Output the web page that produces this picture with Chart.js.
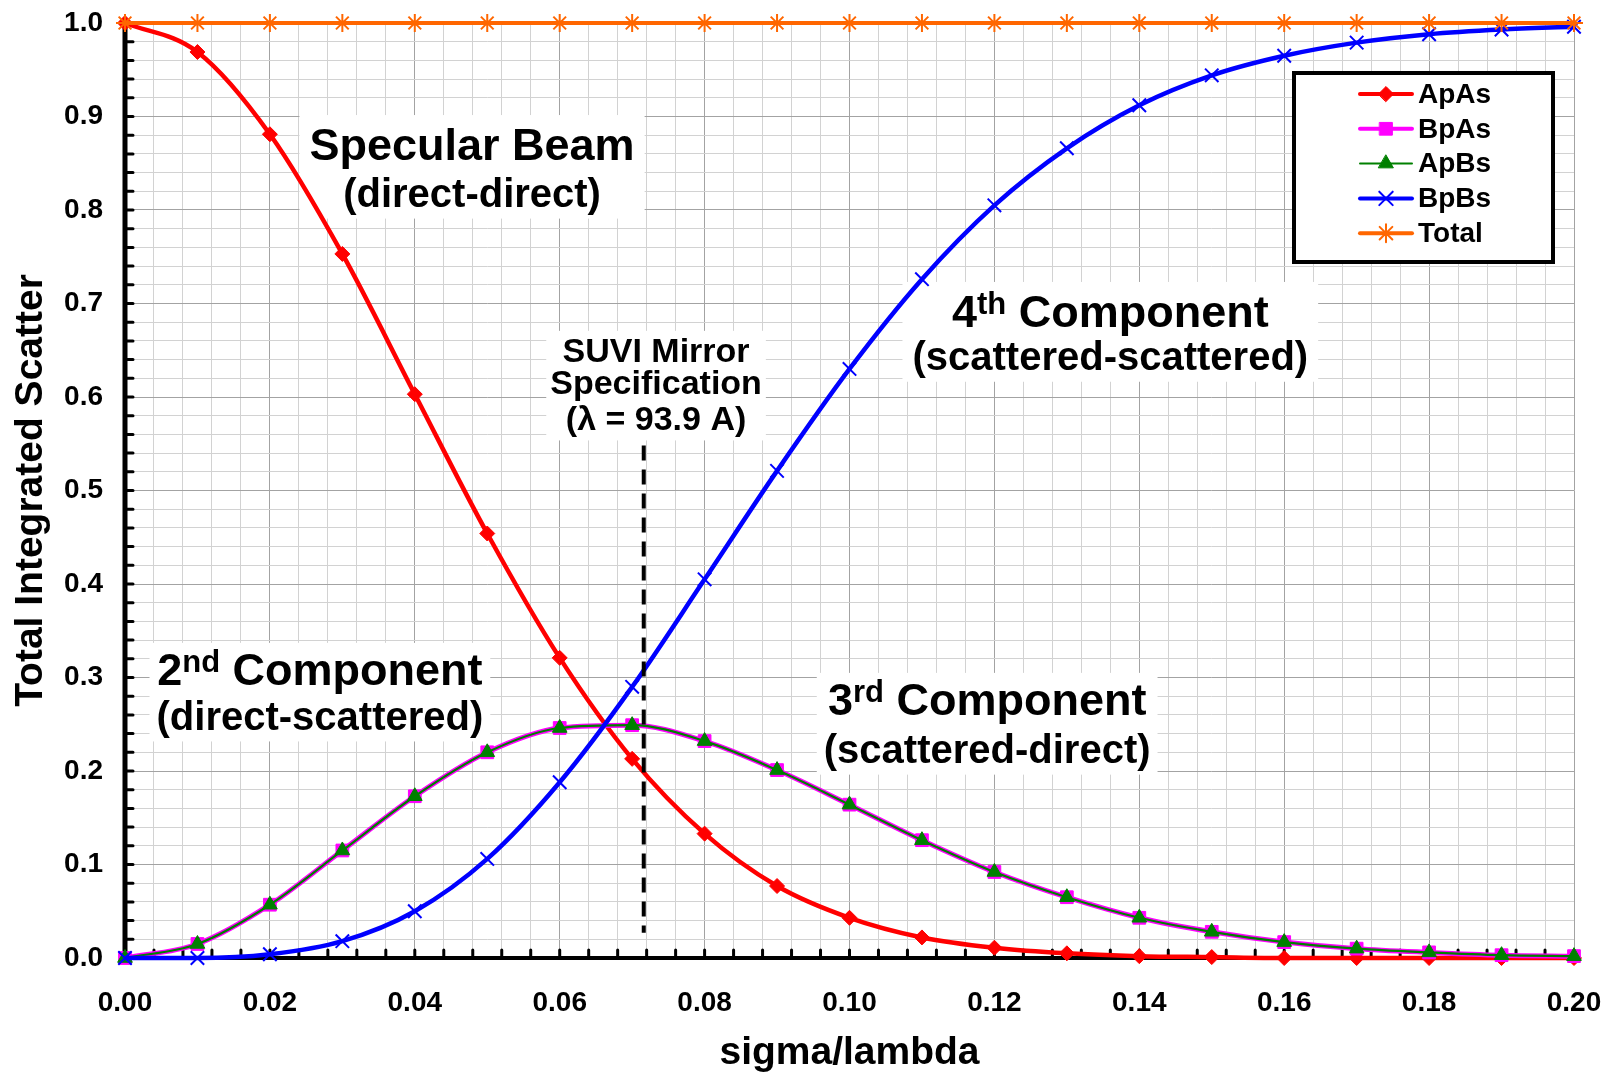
<!DOCTYPE html>
<html>
<head>
<meta charset="utf-8">
<title>Total Integrated Scatter vs sigma/lambda</title>
<script src="https://cdn.jsdelivr.net/npm/chart.js@4/dist/chart.umd.min.js"></script>
<style>
  html, body { margin: 0; padding: 0; background: #ffffff; }
  #wrap { width: 1608px; height: 1073px; position: relative; }
  canvas { display: block; }
</style>
</head>
<body>
<div id="wrap"><canvas id="tis" width="1608" height="1073"></canvas></div>
<script>
// Roughness ratio sigma/lambda
const SIGMA_LAMBDA = [0.00, 0.01, 0.02, 0.03, 0.04, 0.05, 0.06, 0.07, 0.08, 0.09, 0.10,
                      0.11, 0.12, 0.13, 0.14, 0.15, 0.16, 0.17, 0.18, 0.19, 0.20];

// Scatter components
const AP_AS = [1.000, 0.969, 0.881, 0.753, 0.603, 0.454, 0.321, 0.213, 0.133, 0.077, 0.043,
               0.022, 0.011, 0.005, 0.002, 0.001, 0.000, 0.000, 0.000, 0.000, 0.000];
const BP_AS = [0.000, 0.015, 0.057, 0.115, 0.173, 0.220, 0.246, 0.249, 0.232, 0.201, 0.164,
               0.126, 0.092, 0.065, 0.043, 0.028, 0.017, 0.010, 0.006, 0.003, 0.002];
const AP_BS = [0.000, 0.015, 0.057, 0.115, 0.173, 0.220, 0.246, 0.249, 0.232, 0.201, 0.164,
               0.126, 0.092, 0.065, 0.043, 0.028, 0.017, 0.010, 0.006, 0.003, 0.002];
const BP_BS = [0.000, 0.000, 0.004, 0.018, 0.050, 0.106, 0.188, 0.290, 0.405, 0.521, 0.630,
               0.726, 0.805, 0.866, 0.912, 0.944, 0.965, 0.979, 0.988, 0.993, 0.996];
const TOTAL = [1.000, 1.000, 1.000, 1.000, 1.000, 1.000, 1.000, 1.000, 1.000, 1.000, 1.000,
               1.000, 1.000, 1.000, 1.000, 1.000, 1.000, 1.000, 1.000, 1.000, 1.000];

// Tick labels
const X_TICK_LABELS = ['0.00', '0.02', '0.04', '0.06', '0.08', '0.10', '0.12', '0.14', '0.16', '0.18', '0.20'];
const Y_TICK_LABELS = ['0.0', '0.1', '0.2', '0.3', '0.4', '0.5', '0.6', '0.7', '0.8', '0.9', '1.0'];

// SUVI mirror specification (sigma/lambda) and the extent of its marker line
const SPEC_SIGMA_LAMBDA = 0.0716;
const SPEC_LINE_RANGE = [0.027, 0.548];

const FONT = '"Liberation Sans", Arial, Helvetica, sans-serif';

const pts = (ys) => SIGMA_LAMBDA.map((x, i) => ({ x: x, y: ys[i] }));

function series(label, ys, color, width, style, radius, order, markerBorder) {
  return {
    label: label,
    data: pts(ys),
    borderColor: color,
    backgroundColor: color,
    borderWidth: width,
    pointStyle: style,
    pointRadius: radius,
    pointHoverRadius: radius,
    pointBackgroundColor: color,
    pointBorderColor: color,
    pointBorderWidth: markerBorder,
    cubicInterpolationMode: 'monotone',
    clip: false,
    order: order
  };
}

const datasets = [
  series('ApAs',  AP_AS, '#ff0000', 4.5, 'rectRot',  7.5, 4, 1),
  series('BpAs',  BP_AS, '#ff00ff', 5,   'rect',     9,   3, 1),
  series('ApBs',  AP_BS, '#008000', 2.2, 'triangle', 8.5, 2, 1),
  series('BpBs',  BP_BS, '#0000ff', 4.5, 'crossRot', 9.5, 1, 2),
  series('Total', TOTAL, '#ff6600', 4,   'star',     9,   0, 2)
];
// legend line widths (the legend shows the thin green stroke separately)
const LEGEND_LINE_WIDTH = [4, 4, 2, 4, 4];

const isMajorX = (v) => Math.round(v * 1000) % 20 === 0;
const isMajorY = (v) => Math.round(v * 100) % 10 === 0;

// ---- text annotations -------------------------------------------------
const NOTES = [
  { x: 0.0479, pad: 10, lines: [
      { y: 0.853, size: 45, parts: [['Specular Beam', 0]] },
      { y: 0.803, size: 40, parts: [['(direct-direct)', 0]] } ] },
  { x: 0.1360, pad: 10, lines: [
      { y: 0.6745, size: 45, parts: [['4', 0], ['th', 1], [' Component', 0]] },
      { y: 0.6285, size: 40, parts: [['(scattered-scattered)', 0]] } ] },
  { x: 0.0269, pad: 7, lines: [
      { y: 0.2917, size: 45, parts: [['2', 0], ['nd', 1], [' Component', 0]] },
      { y: 0.2438, size: 40, parts: [['(direct-scattered)', 0]] } ] },
  { x: 0.1190, pad: 7, lines: [
      { y: 0.2596, size: 45, parts: [['3', 0], ['rd', 1], [' Component', 0]] },
      { y: 0.2083, size: 40, parts: [['(scattered-direct)', 0]] } ] },
  { x: 0.0733, pad: 4, lines: [
      { y: 0.6371, size: 34, parts: [['SUVI Mirror', 0]] },
      { y: 0.6029, size: 34, parts: [['Specification', 0]] },
      { y: 0.5644, size: 34, parts: [['(\u03bb = 93.9 A)', 0]] } ] }
];

function partFont(size, sup) {
  return 'bold ' + (sup ? Math.round(size * 0.68) : size) + 'px ' + FONT;
}
function lineWidthOf(ctx, ln) {
  let w = 0;
  ln.parts.forEach(([t, sup]) => { ctx.font = partFont(ln.size, sup); w += ctx.measureText(t).width; });
  return w;
}

const notesPlugin = {
  id: 'notes',
  beforeDatasetsDraw(chart) {
    const { ctx, scales: { x, y } } = chart;
    ctx.save();
    NOTES.forEach(note => {
      const cx = x.getPixelForValue(note.x);
      const widths = note.lines.map(ln => lineWidthOf(ctx, ln));
      const maxW = Math.max.apply(null, widths);
      const first = note.lines[0], last = note.lines[note.lines.length - 1];
      const top = y.getPixelForValue(first.y) - first.size * 0.72 - note.pad - 3;
      const bottom = y.getPixelForValue(last.y) + last.size * 0.21 + 3;
      ctx.fillStyle = '#ffffff';
      ctx.fillRect(cx - maxW / 2 - note.pad, top, maxW + 2 * note.pad, bottom - top);
      ctx.fillStyle = '#000000';
      ctx.textBaseline = 'alphabetic';
      ctx.textAlign = 'left';
      note.lines.forEach((ln, i) => {
        const by = y.getPixelForValue(ln.y);
        let px = cx - widths[i] / 2;
        ln.parts.forEach(([t, sup]) => {
          ctx.font = partFont(ln.size, sup);
          ctx.fillText(t, px, sup ? by - ln.size * 0.3 : by);
          px += ctx.measureText(t).width;
        });
      });
    });
    ctx.restore();
  }
};

// ---- thick axis lines with inward tick marks --------------------------
const axisFramePlugin = {
  id: 'axisFrame',
  beforeDatasetsDraw(chart) {
    const { ctx, chartArea: a, scales: { x, y } } = chart;
    ctx.save();
    ctx.strokeStyle = '#000000';
    ctx.lineCap = 'round';
    ctx.lineWidth = 3;
    ctx.beginPath();
    y.ticks.forEach(t => {
      if (t.value <= 0 || t.value >= 1) return;
      const py = y.getPixelForValue(t.value);
      ctx.moveTo(a.left, py); ctx.lineTo(a.left + 8, py);
    });
    x.ticks.forEach(t => {
      if (t.value <= 0) return;
      const px = x.getPixelForValue(t.value);
      ctx.moveTo(px, a.bottom); ctx.lineTo(px, a.bottom - 8);
    });
    ctx.stroke();
    ctx.lineCap = 'butt';
    ctx.lineWidth = 5;
    ctx.beginPath();
    ctx.moveTo(a.left, a.top); ctx.lineTo(a.left, a.bottom + 2);
    ctx.stroke();
    ctx.lineWidth = 4;
    ctx.beginPath();
    ctx.moveTo(a.left, a.bottom); ctx.lineTo(a.right, a.bottom);
    ctx.stroke();
    ctx.restore();
  }
};

// ---- dashed specification marker --------------------------------------
const specLinePlugin = {
  id: 'specLine',
  afterDatasetsDraw(chart) {
    const { ctx, scales: { x, y } } = chart;
    const px = x.getPixelForValue(SPEC_SIGMA_LAMBDA);
    ctx.save();
    ctx.strokeStyle = '#000000';
    ctx.lineWidth = 4;
    ctx.setLineDash([15, 9]);
    ctx.beginPath();
    ctx.moveTo(px, y.getPixelForValue(SPEC_LINE_RANGE[1]));
    ctx.lineTo(px, y.getPixelForValue(SPEC_LINE_RANGE[0]));
    ctx.stroke();
    ctx.restore();
  }
};

// ---- boxed legend inside the plot -------------------------------------
function drawMarker(ctx, style, r, cx, cy, color, bw) {
  ctx.save();
  ctx.fillStyle = color; ctx.strokeStyle = color; ctx.lineWidth = bw;
  ctx.setLineDash([]);
  ctx.beginPath();
  if (style === 'rectRot') {
    ctx.moveTo(cx - r, cy); ctx.lineTo(cx, cy - r); ctx.lineTo(cx + r, cy); ctx.lineTo(cx, cy + r);
    ctx.closePath(); ctx.fill(); ctx.stroke();
  } else if (style === 'rect') {
    const s = r * Math.SQRT1_2;
    ctx.rect(cx - s, cy - s, 2 * s, 2 * s); ctx.fill(); ctx.stroke();
  } else if (style === 'triangle') {
    for (let k = 0; k < 3; k++) {
      const ang = k * 2 * Math.PI / 3;
      const px = cx + Math.sin(ang) * r, py = cy - Math.cos(ang) * r;
      if (k === 0) ctx.moveTo(px, py); else ctx.lineTo(px, py);
    }
    ctx.closePath(); ctx.fill(); ctx.stroke();
  } else if (style === 'crossRot' || style === 'star') {
    const d = r * Math.SQRT1_2;
    ctx.moveTo(cx - d, cy - d); ctx.lineTo(cx + d, cy + d);
    ctx.moveTo(cx - d, cy + d); ctx.lineTo(cx + d, cy - d);
    if (style === 'star') {
      ctx.moveTo(cx, cy - r); ctx.lineTo(cx, cy + r);
      ctx.moveTo(cx - r, cy); ctx.lineTo(cx + r, cy);
    }
    ctx.stroke();
  }
  ctx.restore();
}

const boxLegendPlugin = {
  id: 'boxLegend',
  afterDraw(chart) {
    const { ctx, chartArea: a } = chart;
    const left = a.right - 280, top = a.top + 50, w = 259, h = 189;
    ctx.save();
    ctx.fillStyle = '#ffffff';
    ctx.fillRect(left, top, w, h);
    ctx.strokeStyle = '#000000';
    ctx.lineWidth = 4;
    ctx.strokeRect(left, top, w, h);
    ctx.font = 'bold 28px ' + FONT;
    ctx.textBaseline = 'middle';
    ctx.textAlign = 'left';
    chart.data.datasets.forEach((ds, i) => {
      const cy = top + 21 + i * 34.8;
      const x0 = left + 66, x1 = left + 118, mx = (x0 + x1) / 2;
      ctx.strokeStyle = ds.borderColor;
      ctx.lineWidth = LEGEND_LINE_WIDTH[i];
      ctx.lineCap = 'round';
      ctx.beginPath(); ctx.moveTo(x0, cy); ctx.lineTo(x1, cy); ctx.stroke();
      drawMarker(ctx, ds.pointStyle, ds.pointRadius, mx, cy, ds.borderColor, ds.pointBorderWidth);
      ctx.fillStyle = '#000000';
      ctx.fillText(ds.label, left + 124, cy + 1);
    });
    ctx.restore();
  }
};

new Chart(document.getElementById('tis'), {
  type: 'line',
  data: { datasets: datasets },
  options: {
    responsive: false,
    animation: false,
    events: [],
    layout: { padding: { left: 0, right: 34, top: 23, bottom: 0 } },
    plugins: { legend: { display: false }, tooltip: { enabled: false } },
    scales: {
      x: {
        type: 'linear',
        min: 0, max: 0.2,
        afterFit: (s) => { s.height = 115; },
        border: { display: false },
        grid: {
          drawTicks: true,
          tickLength: 28,
          tickColor: 'rgba(0,0,0,0)',
          lineWidth: 1,
          color: (c) => (c.tick && isMajorX(c.tick.value)) ? '#a3a3a3' : '#d2d2d2'
        },
        ticks: {
          stepSize: 0.004,
          maxTicksLimit: 200,
          autoSkip: false,
          maxRotation: 0, minRotation: 0,
          padding: 0,
          color: '#000000',
          font: { family: FONT, size: 28, weight: 'bold' },
          callback: (v) => isMajorX(v) ? X_TICK_LABELS[Math.round(v / 0.02)] : ''
        },
        title: {
          display: true,
          text: 'sigma/lambda',
          color: '#000000',
          font: { family: FONT, size: 39, weight: 'bold', lineHeight: 1 },
          padding: { top: 0, bottom: 0 }
        }
      },
      y: {
        min: 0, max: 1,
        afterFit: (s) => { s.width = 125; },
        border: { display: false },
        grid: {
          drawTicks: true,
          tickLength: 22,
          tickColor: 'rgba(0,0,0,0)',
          lineWidth: 1,
          color: (c) => (c.tick && isMajorY(c.tick.value)) ? '#a3a3a3' : '#d2d2d2'
        },
        ticks: {
          stepSize: 0.02,
          maxTicksLimit: 200,
          autoSkip: false,
          padding: 0,
          color: '#000000',
          font: { family: FONT, size: 28, weight: 'bold' },
          callback: (v) => isMajorY(v) ? Y_TICK_LABELS[Math.round(v * 10)] : ''
        },
        title: {
          display: true,
          text: 'Total Integrated Scatter',
          color: '#000000',
          font: { family: FONT, size: 39, weight: 'bold', lineHeight: 1 },
          padding: { top: 12, bottom: 0 }
        }
      }
    }
  },
  plugins: [notesPlugin, axisFramePlugin, specLinePlugin, boxLegendPlugin]
});
</script>
</body>
</html>
